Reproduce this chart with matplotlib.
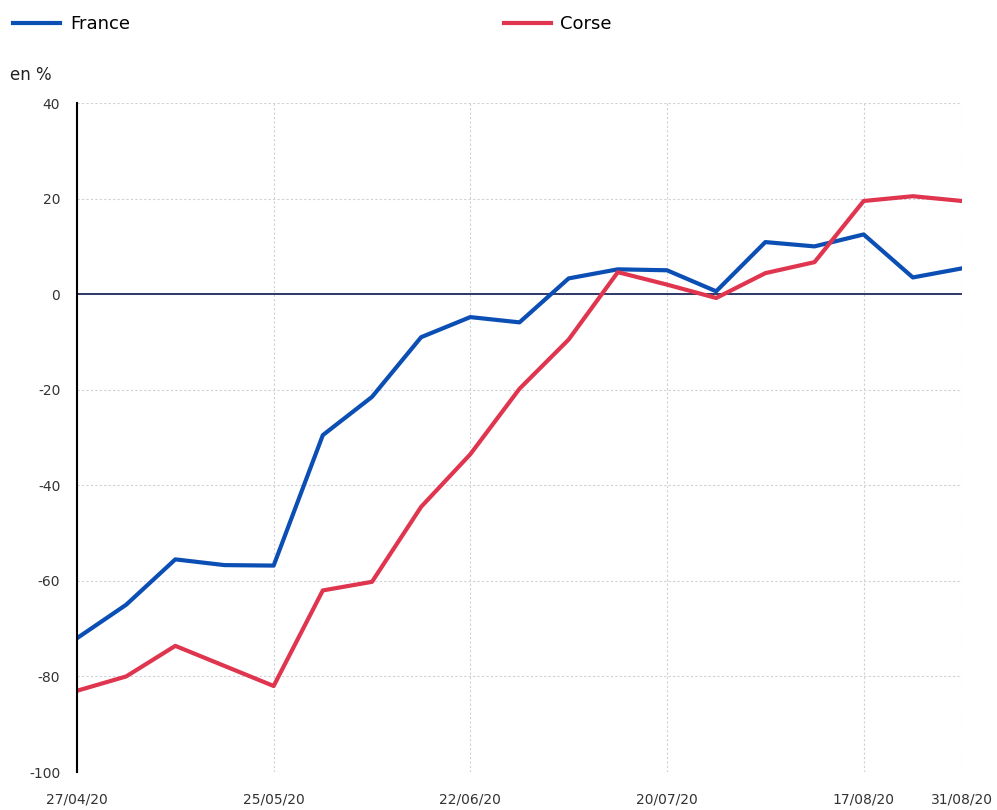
import matplotlib
matplotlib.use('Agg')
import matplotlib.pyplot as plt

# semaines du 27/04/20 au 31/08/20
semaines = ['27/04/20', '04/05/20', '11/05/20', '18/05/20', '25/05/20', '01/06/20',
            '08/06/20', '15/06/20', '22/06/20', '29/06/20', '06/07/20', '13/07/20',
            '20/07/20', '27/07/20', '03/08/20', '10/08/20', '17/08/20', '24/08/20',
            '31/08/20']
france = [-72, -65, -55.5, -56.7, -56.8, -29.5, -21.5, -9, -4.8, -5.9, 3.3, 5.2,
          5, 0.6, 10.9, 10, 12.5, 3.5, 5.4]
corse = [-83, -80, -73.6, -77.8, -82, -62, -60.2, -44.5, -33.5, -19.8, -9.5, 4.6,
         2, -0.8, 4.4, 6.7, 19.5, 20.5, 19.5]
labels_x = ['27/04/20', '25/05/20', '22/06/20', '20/07/20', '17/08/20', '31/08/20']
yticks = [-100, -80, -60, -40, -20, 0, 20, 40]

plt.rcParams['font.family'] = ['DejaVu Sans']

fig = plt.figure(figsize=(9.97, 8.10), dpi=100)
ax = fig.add_axes([0.0772, 0.0469, 0.8877, 0.8259])

x = list(range(len(semaines)))
ax.axhline(0, color='#1f2a5e', lw=1.3, zorder=2)
l1, = ax.plot(x, france, color='#0b4fb5', lw=3, label='France', zorder=3)
l2, = ax.plot(x, corse, color='#e0354f', lw=3, label='Corse', zorder=3)

xt = [semaines.index(s) for s in labels_x]
ax.set_xticks(xt)
ax.set_xticklabels(labels_x, fontsize=10, color='#333333')
ax.set_yticks(yticks)
ax.set_yticklabels([str(v) for v in yticks], fontsize=10, color='#333333')
ax.tick_params(axis='x', length=0, pad=15)
ax.tick_params(axis='y', length=0, pad=12)
ax.set_xlim(0, len(semaines) - 1)
ax.set_ylim(-100, 40)
ax.grid(True, color='#d0d0d8', lw=0.8, linestyle=(0, (2, 2)))
for s in ['top', 'right', 'bottom']:
    ax.spines[s].set_visible(False)
ax.spines['left'].set_color('black')
ax.spines['left'].set_linewidth(1.5)
ax.spines['left'].set_zorder(4)

fig.text(0.010, 1 - 75 / 810, 'en %', fontsize=12, va='center', ha='left', color='#222222')
fig.legend(handles=[l1, l2], loc='center left', bbox_to_anchor=(0.013, 1 - 24 / 810),
           ncol=2, frameon=False, fontsize=13, handlelength=2.6, handletextpad=0.55,
           columnspacing=20.7, borderaxespad=0, borderpad=0)

fig.savefig('out.png', dpi=100)
